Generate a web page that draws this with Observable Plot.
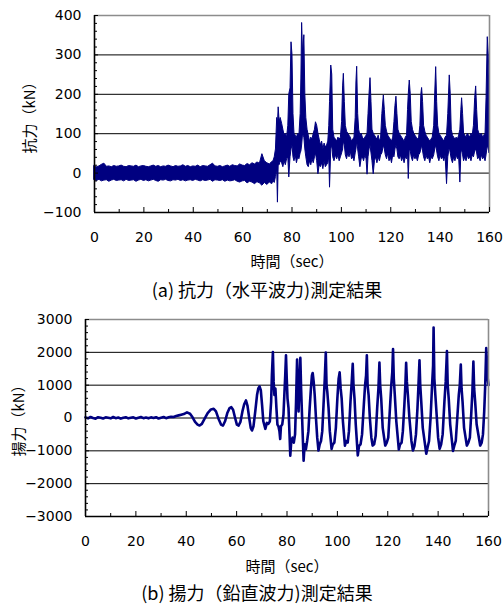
<!DOCTYPE html>
<html><head><meta charset="utf-8">
<script src="https://cdn.jsdelivr.net/npm/d3@7"></script>
<script src="https://cdn.jsdelivr.net/npm/@observablehq/plot@0.6"></script>
<style>
html,body{margin:0;padding:0;background:#fff;}
#root{position:relative;width:504px;height:604px;overflow:hidden;background:#fff;}
#root svg{position:absolute;left:0;}
.lbl{position:absolute;font-family:"Noto Sans CJK JP",sans-serif;color:#000;white-space:nowrap;transform:translate(-50%,-50%);line-height:1;}
.ylbl{transform:translate(-50%,-50%) rotate(-90deg);}
</style></head><body><div id="root"></div>
<script>
// ---------- tick definitions ----------
const xLabelTicks = [0, 20, 40, 60, 80, 100, 120, 140, 160];
const xMinorTicks = [10, 30, 50, 70, 90, 110, 130, 150];
const aYTicks = [-100, 0, 100, 200, 300, 400];
const aGrid = [0, 100, 200, 300];
const aYMinor = [-80,-60,-40,-20,20,40,60,80,120,140,160,180,220,240,260,280,320,340,360,380];
const bYTicks = [-3000, -2000, -1000, 0, 1000, 2000, 3000];
const bGrid = [-2000, -1000, 0, 1000, 2000];
const bYMinor = [-2800,-2600,-2400,-2200,-1800,-1600,-1400,-1200,-800,-600,-400,-200,200,400,600,800,1200,1400,1600,1800,2200,2400,2600,2800];

// ---------- (a) horizontal force: envelope (lo, hi) in kN ----------
// quiet part, sampled each second from 0 to 72 s
const aQuietHi = [18,15,17,21,24,16,17,15,18,16,
 17,19,16,15,18,17,16,19,15,17,
 18,16,15,17,19,16,18,15,17,16,
 19,17,15,18,16,17,20,16,18,15,
 17,16,19,15,18,17,16,20,24,17,
 16,18,15,17,19,16,20,18,17,22,
 19,18,23,20,25,22,27,24,48,30,
 25,22,28];
const aQuietLo = [-18,-20,-17,-21,-19,-18,-22,-19,-17,-20,
 -19,-18,-21,-17,-20,-19,-18,-22,-19,-17,
 -20,-18,-21,-19,-17,-20,-22,-18,-19,-17,
 -20,-21,-18,-19,-17,-20,-18,-21,-19,-18,
 -20,-17,-19,-21,-18,-20,-19,-17,-22,-18,
 -19,-20,-18,-22,-19,-21,-20,-18,-22,-24,
 -21,-20,-26,-22,-24,-28,-23,-26,-32,-25,
 -30,-24,-28];
// active part: [time s, lo, hi]
const aActive = [
[72.5,-20,30],[73.0,-25,40],[73.5,-10,60],[74.0,10,140],[74.3,-75,120],[74.6,20,167],[75.0,20,130],[75.4,30,140],
[76.0,25,125],[76.5,15,110],[77.0,30,95],[77.5,20,100],[78.0,35,90],[78.5,40,120],[78.9,-11,200],[79.4,40,215],
[79.8,60,332],[80.2,70,300],[80.6,40,150],[81.0,30,100],[81.5,45,95],[82.0,25,90],[82.5,40,100],[83.0,35,95],
[83.5,50,150],[83.8,55,240],[84.1,70,381],[84.5,100,300],[85.0,90,350],[85.4,60,200],[85.8,40,140],[86.3,20,110],
[86.8,15,95],[87.3,30,80],[87.8,20,90],[88.3,35,85],[88.8,25,100],[89.3,40,110],[89.7,50,129],[90.2,30,120],
[90.7,-3,100],[91.2,20,85],[91.7,15,70],[92.2,25,80],[92.7,10,60],[93.2,30,75],[93.7,15,65],[94.2,20,70],
[94.7,25,80],[95.1,40,120],[95.4,-37,180],[95.9,60,273],[96.3,70,250],[96.7,40,110],[97.2,30,90],[97.8,45,85],
[98.3,35,80],[98.8,45,90],[99.3,30,85],[99.8,40,90],[100.3,50,130],[100.7,60,220],[101.0,80,252],[101.4,70,180],
[101.8,45,120],[102.3,35,105],[102.8,50,100],[103.3,40,95],[103.8,55,90],[104.3,35,80],[104.8,40,85],[105.3,30,90],
[105.8,50,140],[106.1,60,230],[106.4,80,270],[106.8,60,150],[107.2,40,110],[107.7,15,95],[108.2,35,100],[108.7,40,90],
[109.2,30,85],[109.7,45,90],[110.2,35,95],[110.6,-4,100],[111.0,40,150],[111.4,60,200],[111.8,70,241],[112.2,50,180],
[112.6,30,110],[113.1,-3,100],[113.6,30,95],[114.1,40,90],[114.6,25,85],[115.1,40,95],[115.6,30,80],[116.1,45,90],
[116.6,50,150],[117.2,70,197],[117.6,60,160],[118.0,45,120],[118.5,35,105],[119.0,50,95],[119.5,30,90],[120.0,40,85],
[120.5,25,80],[121.0,45,90],[121.5,40,130],[121.9,60,170],[122.3,70,194],[122.7,60,150],[123.1,40,110],[123.6,35,100],
[124.1,45,95],[124.6,30,90],[125.1,40,85],[125.6,25,80],[126.1,40,90],[126.6,35,95],[127.0,50,160],[127.3,-15,200],
[127.7,60,235],[128.1,55,200],[128.5,40,130],[129.0,30,110],[129.5,45,100],[130.0,35,95],[130.5,40,90],[131.0,30,85],
[131.5,45,90],[132.0,50,120],[132.4,60,200],[132.7,70,216],[133.1,55,180],[133.5,40,120],[134.0,30,105],[134.5,45,95],
[135.0,35,90],[135.5,40,85],[136.0,25,80],[136.5,40,85],[137.0,35,90],[137.6,45,120],[138.0,60,200],[138.4,70,269],
[138.8,55,180],[139.2,40,120],[139.7,30,100],[140.2,45,95],[140.7,35,90],[141.2,40,85],[141.7,30,80],[142.2,45,90],
[142.8,-28,95],[143.3,40,150],[143.9,65,248],[144.3,50,200],[144.7,35,110],[145.2,25,95],[145.7,40,90],[146.2,30,85],
[146.7,45,90],[147.2,35,85],[147.7,40,95],[148.2,-24,110],[148.6,50,160],[148.9,60,190],[149.3,45,150],[149.7,30,100],
[150.2,40,95],[150.7,30,90],[151.2,45,100],[151.7,35,95],[152.2,40,90],[152.7,30,100],[153.2,45,95],[153.7,40,120],
[154.2,55,190],[154.6,60,220],[155.0,50,160],[155.4,35,110],[155.9,40,100],[156.4,30,95],[156.9,45,100],[157.4,35,90],
[157.9,40,95],[158.4,30,100],[158.8,45,190],[159.3,70,345],[159.7,60,300],[160.0,50,245]
];

// ---------- (b) vertical force (uplift) in kN ----------
// quiet part, sampled each second from 0 to 38 s
const bQuiet = [20,-10,30,0,-20,25,10,-15,20,5,
 -10,30,-5,15,-20,10,25,-10,5,20,
 -15,10,30,-5,15,-10,20,0,25,-15,
 10,30,-5,20,40,30,60,80,100];
// active part: [time s, value]
const bActive = [
[39,120],[40.3,170],[41.5,130],[42.5,20],[43.5,-120],[44.5,-200],[45.3,-230],[46.2,-180],[47.3,-20],[48.5,150],
[49.8,260],[50.9,280],[51.8,200],[52.8,-20],[53.8,-200],[54.6,-230],[55.4,-100],[56.3,150],[57.2,300],[57.9,330],
[58.6,250],[59.4,0],[60.1,-200],[60.8,-230],[61.5,-120],[62.3,200],[63.0,420],[63.7,535],[64.3,380],[65.0,0],
[65.6,-300],[66.1,-380],[66.7,-250],[67.4,200],[68.1,700],[68.6,900],[69.1,962],[69.6,850],[70.1,400],[70.6,-100],
[71.4,-330],[72.0,-150],[72.6,-180],[73.2,-100],[73.7,500],[74.0,1300],[74.4,2010],[74.7,1100],[75.0,700],[75.4,900],
[75.8,300],[76.2,-200],[76.6,-250],[77.0,-400],[77.3,-640],[77.6,-250],[78.1,-200],[78.6,100],[79.0,800],[79.3,1300],
[79.6,1910],[79.9,1200],[80.2,600],[80.6,300],[81.0,-500],[81.3,-1150],[81.7,-700],[82.2,-600],[82.7,-750],[83.2,-500],
[83.6,500],[84.0,1780],[84.3,800],[84.6,200],[85.0,1200],[85.3,1830],[85.6,900],[86.0,0],[86.6,-1300],[87.0,-800],
[87.5,-950],[88.0,-700],[88.5,-400],[89.0,300],[89.5,900],[89.9,1300],[90.2,1370],[90.6,1100],[91.0,700],[91.5,0],
[92.0,-600],[92.5,-990],[93.0,-800],[93.5,-700],[94.0,-400],[94.5,400],[95.0,1200],[95.4,1990],[95.7,1000],[96.0,800],
[96.5,300],[97.0,-400],[97.7,-940],[98.2,-800],[98.8,-750],[99.4,-300],[100.0,600],[100.5,1200],[100.9,1390],[101.3,900],
[101.7,600],[102.2,-100],[103.0,-840],[103.5,-700],[104.1,-750],[104.6,-400],[105.2,500],[105.7,1100],[106.1,1650],[106.4,1000],
[106.8,600],[107.3,-200],[108.1,-1140],[108.6,-850],[109.2,-800],[109.8,-500],[110.5,400],[111.0,1000],[111.4,1300],[111.7,1910],
[112.0,1000],[112.4,700],[112.9,0],[113.5,-600],[114.0,-840],[114.6,-800],[115.2,-550],[115.8,300],[116.3,900],[116.7,1690],
[117.0,1000],[117.4,600],[118.0,-300],[119.0,-840],[119.6,-750],[120.2,-600],[120.8,200],[121.4,1000],[121.8,1400],[122.1,2100],
[122.4,1200],[122.8,700],[123.4,-100],[124.4,-960],[124.9,-800],[125.5,-750],[126.0,-400],[126.6,400],[127.0,1000],[127.3,1680],
[127.6,1100],[128.0,700],[128.6,0],[129.4,-700],[130.0,-990],[130.6,-850],[131.2,-500],[131.8,300],[132.2,1000],[132.6,1760],
[132.9,1000],[133.3,500],[133.9,-300],[135.3,-1090],[135.8,-900],[136.4,-700],[137.0,0],[137.6,1000],[138.0,1600],[138.2,2755],
[138.5,1200],[138.9,700],[139.5,0],[140.0,-600],[140.6,-940],[141.2,-800],[141.8,-500],[142.5,500],[143.0,1100],[143.5,2040],
[143.8,1000],[144.2,600],[144.8,-200],[145.9,-1000],[146.4,-850],[147.0,-700],[147.6,0],[148.2,700],[148.6,1000],[149.0,1625],
[149.3,900],[149.7,500],[150.3,-300],[151.4,-840],[152.0,-750],[152.6,-600],[153.2,200],[153.6,800],[154.0,1720],[154.3,900],
[154.7,500],[155.3,-200],[156.7,-840],[157.3,-750],[157.8,-500],[158.3,200],[158.7,1000],[159.1,2130],[159.4,1700],[159.7,1200],
[160.0,1000]
];

// ---------- tables ----------
const aRows = aQuietHi.map((hi, i) => ({t: i, lo: aQuietLo[i], hi}))
  .concat(aActive.map(([t, lo, hi]) => ({t, lo, hi})));
const bRows = bQuiet.map((v, i) => ({t: i, v}))
  .concat(bActive.map(([t, v]) => ({t, v})));

const navy = "#000080";
const fmt = d => d < 0 ? "\u2212" + Math.abs(d) : String(d);
const W = 504;

function chart({rows, yDomain, yTicks, grid, yMinor, mT, mB, mL, mR, H, dataMarks}) {
  const plotW = W - mL - mR, plotH = H - mT - mB;
  return Plot.plot({
    width: W, height: H,
    marginTop: mT, marginBottom: mB, marginLeft: mL, marginRight: mR,
    x: {domain: [0, 160]},
    y: {domain: yDomain},
    style: {fontFamily: "'DejaVu Sans', sans-serif", fontSize: "14px", background: "transparent", color: "#000"},
    marks: [
      Plot.ruleY(grid, {stroke: "#000", strokeWidth: 1}),
      ...dataMarks,
      Plot.ruleY([yDomain[1]], {stroke: "#8c8c8c", strokeWidth: 1.6}),
      Plot.ruleX([160], {stroke: "#8c8c8c", strokeWidth: 1.6}),
      Plot.ruleY(yMinor, {stroke: "#000", strokeWidth: 1, insetRight: plotW - 3}),
      Plot.ruleY(yTicks, {stroke: "#000", strokeWidth: 1, insetRight: plotW - 4}),
      Plot.ruleX(xMinorTicks, {stroke: "#000", strokeWidth: 1, insetTop: plotH - 3}),
      Plot.ruleX(xLabelTicks, {stroke: "#000", strokeWidth: 1, insetTop: plotH - 5}),
      Plot.ruleX([0], {stroke: "#000", strokeWidth: 1.6}),
      Plot.ruleY([yDomain[0]], {stroke: "#000", strokeWidth: 1.6}),
      Plot.axisX(xLabelTicks, {tickSize: 0, tickPadding: 20, label: null, tickFormat: fmt}),
      Plot.axisY(yTicks, {tickSize: 0, tickPadding: 13, label: null, tickFormat: fmt})
    ]
  });
}

const root = document.getElementById("root");

const svgA = chart({
  rows: aRows, yDomain: [-100, 400], yTicks: aYTicks, grid: aGrid, yMinor: aYMinor,
  mT: 15, mB: 88, mL: 94, mR: 15, H: 300,
  dataMarks: [Plot.areaY(aRows, {x: "t", y1: "lo", y2: "hi", fill: navy, stroke: navy, strokeWidth: 1})]
});
svgA.style.top = "0px";
root.appendChild(svgA);

const svgB = chart({
  rows: bRows, yDomain: [-3000, 3000], yTicks: bYTicks, grid: bGrid, yMinor: bYMinor,
  mT: 19, mB: 88, mL: 85, mR: 16, H: 304,
  dataMarks: [Plot.line(bRows, {x: "t", y: "v", stroke: navy, strokeWidth: 2.6, strokeLinejoin: "round"})]
});
svgB.style.top = "300px";
root.appendChild(svgB);

function label(text, x, y, size, rotate) {
  const d = document.createElement("div");
  d.className = "lbl" + (rotate ? " ylbl" : "");
  d.textContent = text;
  d.style.left = x + "px";
  d.style.top = y + "px";
  d.style.fontSize = size + "px";
  root.appendChild(d);
}
label("抗力（kN）", 28, 114, 15, true);
label("時間（sec）", 292, 260, 15, false);
label("(a) 抗力（水平波力)測定結果", 267, 289, 18, false);
label("揚力（kN）", 17, 417, 15, true);
label("時間（sec）", 287, 565, 15, false);
label("(b) 揚力（鉛直波力)測定結果", 257, 592, 18, false);
</script></body></html>
